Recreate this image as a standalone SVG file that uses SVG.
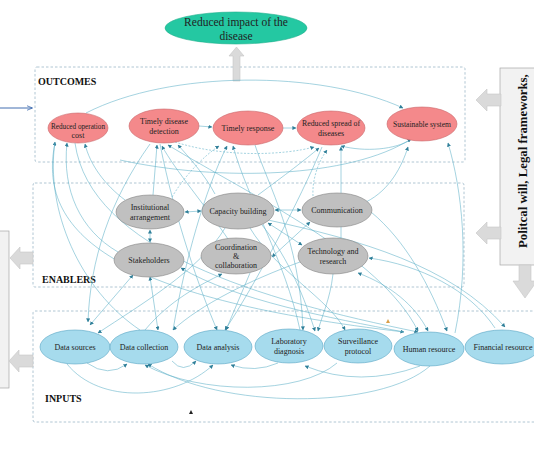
<svg xmlns="http://www.w3.org/2000/svg" width="534" height="462" viewBox="0 0 534 462">
<defs>
<style>
.box{fill:none;stroke:#9db8c8;stroke-width:0.8;stroke-dasharray:2.5,2}
.o{fill:#f4898b;stroke:#c9686b;stroke-width:0.6}
.e{fill:#c0c0c0;stroke:#858585;stroke-width:0.6}
.i{fill:#a6dbed;stroke:#5aa6c4;stroke-width:0.6}
.t{font-family:"Liberation Serif","Times New Roman",serif;font-size:8px;fill:#222;text-anchor:middle}
.sec{font-family:"Liberation Serif","Times New Roman",serif;font-size:10px;font-weight:bold;fill:#111}
.ga{fill:#dadada;stroke:#c6c6c6;stroke-width:0.6}
.c{fill:none;stroke:#5aaec6;stroke-width:0.55;marker-end:url(#ah)}
.b{marker-start:url(#ah)}
.d{stroke-dasharray:2,1.5}
</style>
<marker id="ah" viewBox="0 0 10 10" refX="9" refY="5" markerWidth="4" markerHeight="4" markerUnits="userSpaceOnUse" orient="auto-start-reverse">
<path d="M0,0 L10,5 L0,10 z" fill="#2f7f99"/>
</marker>
<marker id="bh" viewBox="0 0 10 10" refX="9" refY="5" markerWidth="6" markerHeight="6" markerUnits="userSpaceOnUse" orient="auto">
<path d="M0,1 L10,5 L0,9" fill="none" stroke="#2e5fa8" stroke-width="1.2"/>
</marker>
</defs>
<rect width="534" height="462" fill="#ffffff"/>

<g id="sections">
<rect class="box" x="35" y="67" width="430" height="95" rx="2"/>
<rect class="box" x="33" y="183" width="431" height="104" rx="2"/>
<rect class="box" x="33" y="311" width="510" height="111" rx="2"/>
<text class="sec" x="38" y="85">OUTCOMES</text>
<text class="sec" x="42" y="283">ENABLERS</text>
<text class="sec" x="45" y="402">INPUTS</text>
</g>

<g id="side-boxes">
<rect x="-5" y="231" width="14" height="157" fill="#f2f2f2" stroke="#a6a6a6" stroke-width="0.7"/>
<rect x="500" y="68" width="45" height="197" fill="#f2f2f2" stroke="#a6a6a6" stroke-width="0.7"/>
<text x="527" y="248" transform="rotate(-90 527 248)" font-family="Liberation Serif,'Times New Roman',serif" font-size="12.8" font-weight="bold" fill="#111">Politcal will, Legal frameworks,</text>
</g>

<g id="big-arrows">
<polygon class="ga" points="233,81 233,56 229,56 236.5,47 244,56 240,56 240,81"/>
<polygon class="ga" points="501,94 487,94 487,89 476,100 487,111 487,106 501,106"/>
<polygon class="ga" points="501,227 487,227 487,222 476,233 487,244 487,239 501,239"/>
<polygon class="ga" points="519,265 519,281 513,281 525,298 537,281 531,281 531,265"/>
<polygon class="ga" points="33,252 20,252 20,247 10,258 20,269 20,264 33,264"/>
<polygon class="ga" points="33,355 19,355 19,350 9,361 19,372 19,367 33,367"/>
<line x1="0" y1="108" x2="32" y2="108" stroke="#2e5fa8" stroke-width="0.9" marker-end="url(#bh)"/>
</g>

<g id="connectors">
<path class="c" d="M86,113 C170,70 320,70 403,108"/>
<path class="c" d="M199,126 L212,127"/>
<path class="c" d="M283,128 L296,128"/>
<path class="c" d="M412,139 C395,150 365,152 341,146"/>
<path class="c b" d="M185,212 L201,211"/>
<path class="c b" d="M275,210 L301,210"/>
<path class="c b" d="M150,230 L150,242"/>
<path class="c b" d="M272,257 L310,222"/>
<path class="c b" d="M268,223 L302,245"/>
<path class="c" d="M140,330 C80,290 45,210 55,142"/>
<path class="c" d="M118,252 C80,230 62,190 67,143"/>
<path class="c" d="M125,200 C105,185 90,165 85,144"/>
<path class="c" d="M153,195 L157,145"/>
<path class="c" d="M228,239 C205,205 175,170 162,146"/>
<path class="c" d="M215,194 C205,175 188,156 178,145"/>
<path class="c" d="M150,144 C110,200 90,260 88,322"/>
<path class="c b" d="M168,145 C250,195 380,255 418,331"/>
<path class="c" d="M160,144 C175,220 200,290 217,330"/>
<path class="c d" d="M172,197 C185,175 205,155 219,146"/>
<path class="c" d="M173,330 C185,260 205,190 227,146"/>
<path class="c" d="M300,330 C285,260 248,200 233,146"/>
<path class="c" d="M255,145 C268,185 300,240 303,330"/>
<path class="c d" d="M175,142 C225,158 285,155 314,147"/>
<path class="c" d="M258,195 C285,175 305,160 319,148"/>
<path class="c d" d="M313,196 C312,180 318,162 327,150"/>
<path class="c" d="M341,238 L341,147"/>
<path class="c" d="M322,147 C300,200 255,285 225,330"/>
<path class="c" d="M366,202 C390,190 402,166 408,147"/>
<path class="c" d="M455,333 C470,260 462,190 448,143"/>
<path class="c" d="M120,160 C220,182 350,178 411,139"/>
<path class="c" d="M55,143 C35,240 130,300 404,332"/>
<path class="c" d="M75,143 C90,250 260,300 418,332"/>
<path class="c" d="M225,228 C200,270 140,305 98,333"/>
<path class="c" d="M250,228 C275,270 330,300 345,330"/>
<path class="c" d="M262,225 C290,260 305,300 315,331"/>
<path class="c b" d="M133,275 L90,325"/>
<path class="c b" d="M150,277 L158,330"/>
<path class="c" d="M404,332 C330,318 235,300 181,268"/>
<path class="c" d="M145,330 C170,300 200,285 222,274"/>
<path class="c" d="M495,328 C470,290 420,265 369,258"/>
<path class="c b" d="M358,273 C390,285 415,305 428,331"/>
<path class="c" d="M333,274 C330,300 322,315 318,331"/>
<path class="c" d="M300,262 C250,280 200,305 173,330"/>
<path class="c" d="M371,212 C405,240 430,285 447,331"/>
<path class="c" d="M268,220 C360,240 450,265 505,327"/>
<path class="c" d="M250,273 L226,330"/>
<path class="c" d="M67,364 C100,405 175,400 213,365"/>
<path class="c" d="M87,363 Q108,378 127,364"/>
<path class="c" d="M172,361 Q183,374 196,361"/>
<path class="c" d="M278,363 Q255,373 231,365"/>
<path class="c" d="M430,366 C380,410 220,410 148,364"/>
<path class="c" d="M337,363 C300,395 200,395 145,365"/>
<path class="c" d="M420,366 Q360,388 305,366"/>
<polygon points="386,323 388,319 390,323" fill="#d9a04a"/>
<polygon points="189,414 191,410 193,414" fill="#222"/>
</g>

<g id="goal">
<ellipse cx="236" cy="28" rx="71" ry="16" fill="#24c8a2" stroke="#1fae8c" stroke-width="0.6"/>
<text class="t" style="font-size:11.5px" x="236" y="26">Reduced impact of the</text>
<text class="t" style="font-size:11.5px" x="236" y="40">disease</text>
</g>

<g id="o1"><ellipse class="o" cx="78" cy="128" rx="30" ry="15"/><text class="t" x="78" y="129" textLength="54" lengthAdjust="spacingAndGlyphs">Reduced operation</text><text class="t" x="78" y="138">cost</text></g>
<g id="o2"><ellipse class="o" cx="164" cy="126" rx="35" ry="17"/><text class="t" x="164" y="124">Timely disease</text><text class="t" x="164" y="134">detection</text></g>
<g id="o3"><ellipse class="o" cx="248" cy="128" rx="35" ry="17"/><text class="t" x="248" y="131">Timely response</text></g>
<g id="o4"><ellipse class="o" cx="331" cy="128" rx="34" ry="17"/><text class="t" x="331" y="126" textLength="58" lengthAdjust="spacingAndGlyphs">Reduced spread of</text><text class="t" x="331" y="136">diseases</text></g>
<g id="o5"><ellipse class="o" cx="422" cy="124" rx="35" ry="17"/><text class="t" x="422" y="127" textLength="58" lengthAdjust="spacingAndGlyphs">Sustainable system</text></g>

<g id="e1"><ellipse class="e" cx="150" cy="212" rx="34" ry="17"/><text class="t" x="150" y="210">Institutional</text><text class="t" x="150" y="220">arrangement</text></g>
<g id="e2"><ellipse class="e" cx="238" cy="211" rx="36" ry="18"/><text class="t" x="238" y="214" textLength="57" lengthAdjust="spacingAndGlyphs">Capacity building</text></g>
<g id="e3"><ellipse class="e" cx="337" cy="210" rx="35" ry="17"/><text class="t" x="337" y="213">Communication</text></g>
<g id="e4"><ellipse class="e" cx="149" cy="260" rx="35" ry="17"/><text class="t" x="149" y="263">Stakeholders</text></g>
<g id="e5"><ellipse class="e" cx="236" cy="256" rx="35" ry="18"/><text class="t" x="236" y="250">Coordination</text><text class="t" x="236" y="259">&amp;</text><text class="t" x="236" y="268">collaboration</text></g>
<g id="e6"><ellipse class="e" cx="333" cy="256" rx="35" ry="18"/><text class="t" x="333" y="254">Technology and</text><text class="t" x="333" y="264">research</text></g>

<g id="i1"><ellipse class="i" cx="75" cy="347" rx="35" ry="17"/><text class="t" x="75" y="350">Data sources</text></g>
<g id="i2"><ellipse class="i" cx="144" cy="347" rx="34" ry="17"/><text class="t" x="144" y="350">Data collection</text></g>
<g id="i3"><ellipse class="i" cx="218" cy="347" rx="34" ry="17"/><text class="t" x="218" y="350">Data analysis</text></g>
<g id="i4"><ellipse class="i" cx="289" cy="346" rx="34" ry="17"/><text class="t" x="289" y="344">Laboratory</text><text class="t" x="289" y="354">diagnosis</text></g>
<g id="i5"><ellipse class="i" cx="358" cy="346" rx="34" ry="17"/><text class="t" x="358" y="344">Surveillance</text><text class="t" x="358" y="354">protocol</text></g>
<g id="i6"><ellipse class="i" cx="429" cy="349" rx="35" ry="17"/><text class="t" x="429" y="352">Human resource</text></g>
<g id="i7"><ellipse class="i" cx="502" cy="347" rx="37" ry="17"/><text class="t" x="503" y="350">Financial resource</text></g>
</svg>
